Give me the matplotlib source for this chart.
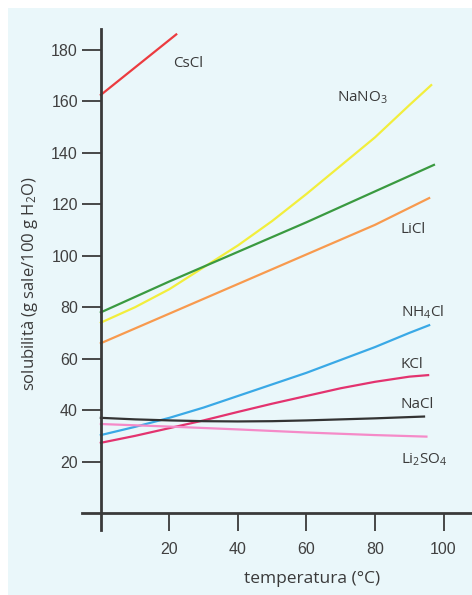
import matplotlib
matplotlib.use("Agg")
import matplotlib.pyplot as plt
from matplotlib.patches import Rectangle

# ---- data ----
t_cscl = [0, 22]
cscl = [162.5, 186]

t_nano3 = [0, 10, 20, 30, 40, 50, 60, 70, 80, 90, 96.4]
nano3 = [74, 80, 87, 95.5, 104, 113.5, 124, 135, 146, 158.5, 166.3]

t_green = [0, 20, 40, 60, 80, 97.2]
green = [78, 90, 101.5, 113, 125, 135.3]

t_licl = [0, 20, 40, 60, 80, 95.8]
licl = [66, 77.5, 89, 100.5, 112, 122.4]

t_nh4cl = [0, 10, 20, 30, 40, 50, 60, 70, 80, 90, 95.8]
nh4cl = [30.3, 33.5, 37, 41, 45.5, 50, 54.5, 59.5, 64.5, 70, 73]

t_kcl = [0, 10, 20, 30, 40, 50, 60, 70, 80, 90, 95.5]
kcl = [27.3, 30, 33, 36, 39.3, 42.5, 45.5, 48.5, 51, 53, 53.6]

t_nacl = [0, 10, 20, 30, 40, 50, 60, 70, 80, 94.3]
nacl = [37, 36.4, 36, 35.7, 35.6, 35.7, 36, 36.4, 36.8, 37.5]

t_li2so4 = [0, 20, 40, 60, 80, 95]
li2so4 = [34.6, 33.6, 32.5, 31.3, 30.3, 29.7]

xticks = [20, 40, 60, 80, 100]
yticks = [20, 40, 60, 80, 100, 120, 140, 160, 180]

plt.rcParams['font.family'] = ['Liberation Sans', 'DejaVu Sans']
plt.rcParams['mathtext.default'] = 'regular'

fig = plt.figure(figsize=(4.72, 5.95), dpi=100)
fig.patch.set_facecolor('white')
fig.patches.append(Rectangle((8 / 472, 0), 1 - 8 / 472, (595 - 8) / 595,
                             transform=fig.transFigure, facecolor='#eaf7fa',
                             edgecolor='none', zorder=-10))

ax = fig.add_axes([82 / 472, 0.1092, 390 / 472, 0.8416])
ax.set_zorder(5)
ax.set_facecolor('none')
ax.set_xlim(-5.5, 108.3)
ax.set_ylim(-6.6, 188)

for s in ['top', 'right']:
    ax.spines[s].set_visible(False)
ax.spines['left'].set_position(('data', 0))
ax.spines['bottom'].set_position(('data', 0))
for s in ['left', 'bottom']:
    ax.spines[s].set_linewidth(2.0)
    ax.spines[s].set_color('#3a3a3a')

ax.set_xticks(xticks)
ax.set_yticks(yticks)
ax.tick_params(axis='both', direction='out', width=1.3,
               color='#3a3a3a', labelsize=11.5, labelcolor='#404040')
ax.tick_params(axis='y', length=14, pad=2.5)
ax.tick_params(axis='x', length=12.6, pad=8)

lw = 1.6
ax.plot(t_cscl, cscl, color='#ec3b3f', lw=lw)
ax.plot(t_nano3, nano3, color='#f2ee3c', lw=lw)
ax.plot(t_green, green, color='#3a9a40', lw=lw)
ax.plot(t_licl, licl, color='#f89a4e', lw=lw)
ax.plot(t_nh4cl, nh4cl, color='#3aa9e6', lw=lw)
ax.plot(t_kcl, kcl, color='#e3336f', lw=lw)
ax.plot(t_nacl, nacl, color='#333333', lw=lw)
ax.plot(t_li2so4, li2so4, color='#f58ac8', lw=lw)

lab = dict(fontsize=11, color='#3a3a3a', va='baseline', ha='left',
           family=['Open Sans', 'DejaVu Sans'])
ax.text(21, 173.3, 'CsCl', **lab)
ax.text(68.9, 159.7, 'NaNO$_3$', **lab)
ax.text(87.3, 108.8, 'LiCl', **lab)
ax.text(87.5, 76.2, 'NH$_4$Cl', **lab)
ax.text(87.5, 56.4, 'KCl', **lab)
ax.text(87.5, 40.8, 'NaCl', **lab)
ax.text(87.5, 19.4, 'Li$_2$SO$_4$', **lab)

fig.text(30 / 472, 1 - 284 / 595, 'solubilità (g sale/100 g H$_2$O)',
         rotation=90, ha='center', va='center', fontsize=12, color='#3a3a3a',
         family=['Open Sans', 'DejaVu Sans'])
fig.text(312 / 472, 1 - 579 / 595, 'temperatura (°C)', ha='center',
         va='center', fontsize=12.5, color='#3a3a3a',
         family=['Open Sans', 'DejaVu Sans'])

fig.savefig('out.png', dpi=100, facecolor=fig.get_facecolor())
